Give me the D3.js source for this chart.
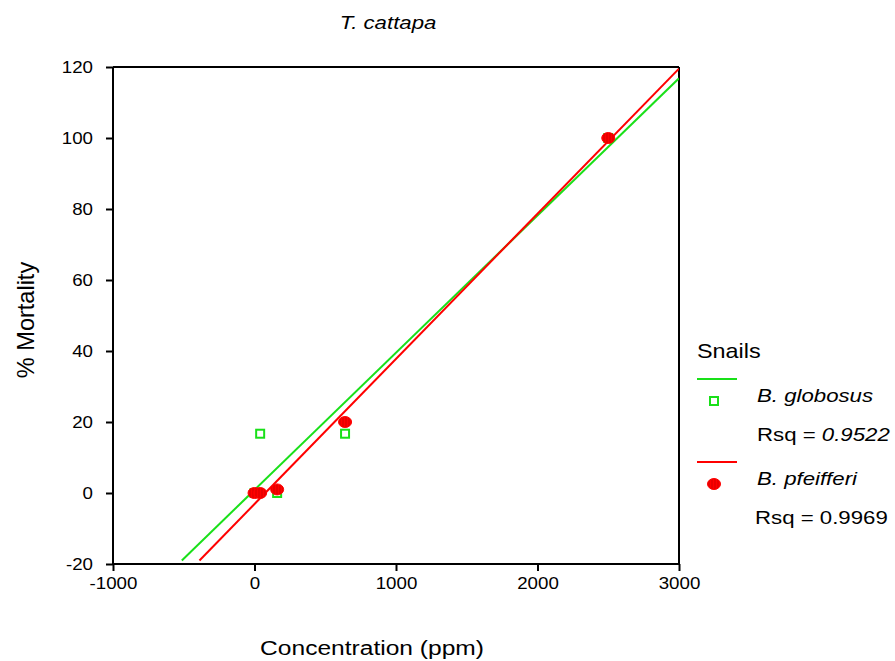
<!DOCTYPE html>
<html>
<head>
<meta charset="utf-8">
<script src="https://cdn.jsdelivr.net/npm/d3@7"></script>
<style>
  html, body { margin: 0; padding: 0; background: #fff; }
  svg text { font-family: "Liberation Sans", Arial, Helvetica, sans-serif; fill: #000; }
</style>
</head>
<body>
<svg id="chart" width="895" height="661"></svg>
<script>
// ---- data ----
const concentrations = [0, 40, 160, 640, 2500];
const globosusMortality = [0, 16.7, 0, 16.7, 100];
const pfeifferiMortality = [0, 0, 1, 20, 100];
const seriesNames = ["B. globosus", "B. pfeifferi"];
const rsqLabels = ["0.9522", "0.9969"];
const xTicks = [-1000, 0, 1000, 2000, 3000];
const yTicks = [-20, 0, 20, 40, 60, 80, 100, 120];
const chartTitle = "T. cattapa";
const xLabel = "Concentration (ppm)";
const yLabel = "% Mortality";
const legendTitle = "Snails";

// ---- layout ----
const SX = 1.17; // horizontal glyph stretch of the original rendering
const GREEN = "#19e019", RED = "#ff0000";
const svg = d3.select("#chart");
const L = 113, R = 679, T = 67, B = 564;
const x = d3.scaleLinear().domain([-1000, 3000]).range([L, R]);
const y = d3.scaleLinear().domain([-20, 120]).range([B, T]);

function stretchText(sel) {
  sel.each(function () {
    const t = d3.select(this);
    const tx = +t.attr("x") || 0;
    t.attr("x", 0).attr("transform", `translate(${tx},0) scale(${SX},1)`);
  });
}
const hyphenFmt = d => String(d);

// defs: hatch for pfeifferi marker
const defs = svg.append("defs");
const pat = defs.append("pattern").attr("id", "hatch").attr("patternUnits", "userSpaceOnUse")
  .attr("width", 3).attr("height", 4);
pat.append("rect").attr("width", 3).attr("height", 4).attr("fill", RED);
pat.append("line").attr("x1", 1).attr("y1", 0).attr("x2", 1).attr("y2", 4)
  .attr("stroke", "#d40000").attr("stroke-width", 1);
defs.append("clipPath").attr("id", "plotclip").append("rect")
  .attr("x", L).attr("y", T).attr("width", R - L).attr("height", B - T);

// frame (top and right)
svg.append("line").attr("x1", L).attr("x2", R).attr("y1", T).attr("y2", T)
  .attr("stroke", "#000").attr("stroke-width", 2);
svg.append("line").attr("x1", R).attr("x2", R).attr("y1", T).attr("y2", B)
  .attr("stroke", "#000").attr("stroke-width", 2);

// axes
const gx = svg.append("g").attr("transform", `translate(0,${B})`)
  .call(d3.axisBottom(x).tickValues(xTicks).tickSize(7).tickPadding(7).tickFormat(hyphenFmt));
const gy = svg.append("g").attr("transform", `translate(${L},0)`)
  .call(d3.axisLeft(y).tickValues(yTicks).tickSize(7).tickPadding(13).tickFormat(hyphenFmt));
[gx, gy].forEach(g => {
  g.select(".domain").attr("stroke", "#000").attr("stroke-width", 2);
  g.selectAll(".tick line").attr("stroke", "#000").attr("stroke-width", 2);
  g.selectAll(".tick text").attr("font-size", 16)
    .style("font-family", "'Liberation Sans', Arial, sans-serif").call(stretchText);
});
gx.select(".domain").attr("d", `M${L},0H${R}`);
gy.select(".domain").attr("d", `M0,${B}V${T}`);

// regression
function fit(xs, ys) {
  const mx = d3.mean(xs), my = d3.mean(ys);
  let sxy = 0, sxx = 0;
  xs.forEach((v, i) => { sxy += (v - mx) * (ys[i] - my); sxx += (v - mx) ** 2; });
  const b = sxy / sxx, a = my - b * mx;
  return { a, b };
}
const series = [
  { name: seriesNames[0], ys: globosusMortality, color: GREEN, rsq: rsqLabels[0] },
  { name: seriesNames[1], ys: pfeifferiMortality, color: RED, rsq: rsqLabels[1] }
];
const plot = svg.append("g").attr("clip-path", "url(#plotclip)");
series.forEach(s => {
  const f = fit(concentrations, s.ys);
  const x0 = (-19 - f.a) / f.b, x1 = 3000;
  plot.append("line")
    .attr("x1", x(x0)).attr("y1", y(f.a + f.b * x0))
    .attr("x2", x(x1)).attr("y2", y(f.a + f.b * x1))
    .attr("stroke", s.color).attr("stroke-width", 2);
});

// markers: globosus squares first, then pfeifferi blobs on top
const pts = concentrations.map((c, i) => ({ c, g: globosusMortality[i], p: pfeifferiMortality[i] }));
plot.selectAll("rect.glob").data(pts).join("rect").attr("class", "glob")
  .attr("x", d => x(d.c) - 4).attr("y", d => y(d.g) - 4).attr("width", 8).attr("height", 8)
  .attr("fill", "none").attr("stroke", GREEN).attr("stroke-width", 2);
plot.selectAll("ellipse.pf").data(pts).join("ellipse").attr("class", "pf")
  .attr("cx", d => x(d.c)).attr("cy", d => y(d.p)).attr("rx", 6.5).attr("ry", 5.5)
  .attr("fill", "url(#hatch)").attr("stroke", RED).attr("stroke-width", 1);

// titles
svg.append("text").attr("x", 388).attr("y", 29).attr("text-anchor", "middle")
  .attr("font-size", 19).attr("font-style", "italic").text(chartTitle).call(stretchText);
svg.append("text").attr("x", 372).attr("y", 655).attr("text-anchor", "middle")
  .attr("font-size", 21).text(xLabel).call(stretchText);
svg.append("text").attr("transform", `translate(34,320) rotate(-90) scale(1.12,1.12)`)
  .attr("text-anchor", "middle").attr("font-size", 21).text(yLabel);

// legend
const lg = svg.append("g");
lg.append("text").attr("x", 697).attr("y", 358).attr("font-size", 20).text(legendTitle).call(stretchText);
const rowY = [379, 462];
series.forEach((s, i) => {
  const y0 = rowY[i];
  lg.append("line").attr("x1", 697).attr("x2", 737).attr("y1", y0).attr("y2", y0)
    .attr("stroke", s.color).attr("stroke-width", 2);
  if (i === 0) {
    lg.append("rect").attr("x", 710).attr("y", y0 + 18).attr("width", 8).attr("height", 8)
      .attr("fill", "none").attr("stroke", s.color).attr("stroke-width", 2);
  } else {
    lg.append("ellipse").attr("cx", 714).attr("cy", y0 + 22).attr("rx", 6.5).attr("ry", 5.5)
      .attr("fill", "url(#hatch)").attr("stroke", s.color).attr("stroke-width", 1);
  }
  lg.append("text").attr("x", 757).attr("y", y0 + 23).attr("font-size", 19)
    .attr("font-style", "italic").text(s.name).call(stretchText);
  const rt = lg.append("text").attr("x", i === 0 ? 757 : 755).attr("y", y0 + 62).attr("font-size", 19);
  rt.append("tspan").text("Rsq = ");
  rt.append("tspan").attr("font-style", i === 0 ? "italic" : "normal").text(s.rsq);
  rt.call(stretchText);
});
</script>
</body>
</html>
